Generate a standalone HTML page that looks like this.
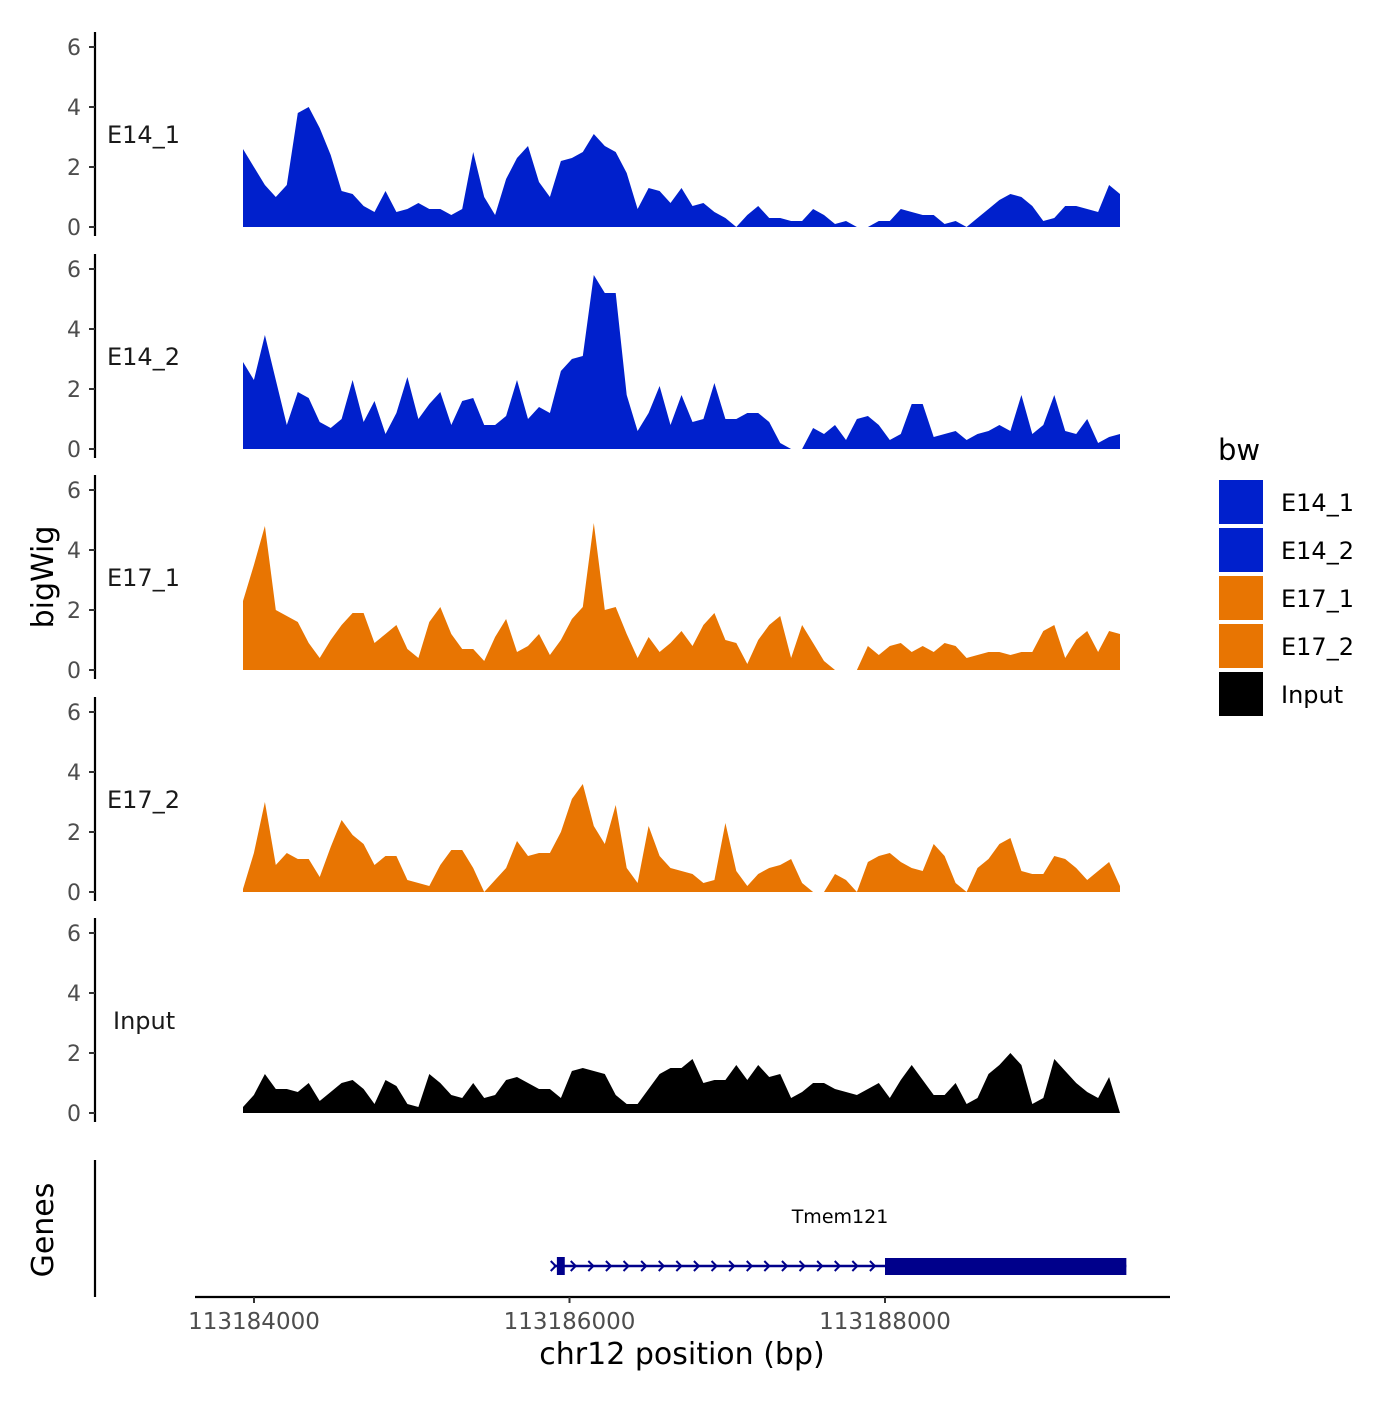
<!DOCTYPE html>
<html><head><meta charset="utf-8"><style>
html,body{margin:0;padding:0;background:#fff;}
svg text{font-family:"DejaVu Sans","Liberation Sans",sans-serif;}
</style></head><body>
<svg id="chart" width="1400" height="1400" viewBox="0 0 1400 1400" xmlns="http://www.w3.org/2000/svg">
<rect width="1400" height="1400" fill="#fff"/>
</svg>
<script>
const trackNames = ["E14_1","E14_2","E17_1","E17_2","Input"];
const trackColors = ["#0020CC","#0020CC","#E87502","#E87502","#000000"];
const startBp = 113183930;
const stepBp = 69.5;
const e14_1 = [2.6,2.0,1.4,1.0,1.4,3.8,4.0,3.3,2.4,1.2,1.1,0.7,0.5,1.2,0.5,0.6,0.8,0.6,0.6,0.4,0.6,2.5,1.0,0.4,1.6,2.3,2.7,1.5,1.0,2.2,2.3,2.5,3.1,2.7,2.5,1.8,0.6,1.3,1.2,0.8,1.3,0.7,0.8,0.5,0.3,0.0,0.4,0.7,0.3,0.3,0.2,0.2,0.6,0.4,0.1,0.2,0.0,0.0,0.2,0.2,0.6,0.5,0.4,0.4,0.1,0.2,0.0,0.3,0.6,0.9,1.1,1.0,0.7,0.2,0.3,0.7,0.7,0.6,0.5,1.4,1.1];
const e14_2 = [2.9,2.3,3.8,2.3,0.8,1.9,1.7,0.9,0.7,1.0,2.3,0.9,1.6,0.5,1.2,2.4,1.0,1.5,1.9,0.8,1.6,1.7,0.8,0.8,1.1,2.3,1.0,1.4,1.2,2.6,3.0,3.1,5.8,5.2,5.2,1.8,0.6,1.2,2.1,0.8,1.8,0.9,1.0,2.2,1.0,1.0,1.2,1.2,0.9,0.2,0.0,0.0,0.7,0.5,0.8,0.3,1.0,1.1,0.8,0.3,0.5,1.5,1.5,0.4,0.5,0.6,0.3,0.5,0.6,0.8,0.6,1.8,0.5,0.8,1.8,0.6,0.5,1.0,0.2,0.4,0.5];
const e17_1 = [2.3,3.5,4.8,2.0,1.8,1.6,0.9,0.4,1.0,1.5,1.9,1.9,0.9,1.2,1.5,0.7,0.4,1.6,2.1,1.2,0.7,0.7,0.3,1.1,1.7,0.6,0.8,1.2,0.5,1.0,1.7,2.1,4.9,2.0,2.1,1.2,0.4,1.1,0.6,0.9,1.3,0.8,1.5,1.9,1.0,0.9,0.2,1.0,1.5,1.8,0.4,1.5,0.9,0.3,0.0,0.0,0.0,0.8,0.5,0.8,0.9,0.6,0.8,0.6,0.9,0.8,0.4,0.5,0.6,0.6,0.5,0.6,0.6,1.3,1.5,0.4,1.0,1.3,0.6,1.3,1.2];
const e17_2 = [0.1,1.3,3.0,0.9,1.3,1.1,1.1,0.5,1.5,2.4,1.9,1.6,0.9,1.2,1.2,0.4,0.3,0.2,0.9,1.4,1.4,0.8,0.0,0.4,0.8,1.7,1.2,1.3,1.3,2.0,3.1,3.6,2.2,1.6,2.9,0.8,0.3,2.2,1.2,0.8,0.7,0.6,0.3,0.4,2.3,0.7,0.2,0.6,0.8,0.9,1.1,0.3,0.0,0.0,0.6,0.4,0.0,1.0,1.2,1.3,1.0,0.8,0.7,1.6,1.2,0.3,0.0,0.8,1.1,1.6,1.8,0.7,0.6,0.6,1.2,1.1,0.8,0.4,0.7,1.0,0.2];
const input = [0.2,0.6,1.3,0.8,0.8,0.7,1.0,0.4,0.7,1.0,1.1,0.8,0.3,1.1,0.9,0.3,0.2,1.3,1.0,0.6,0.5,1.0,0.5,0.6,1.1,1.2,1.0,0.8,0.8,0.5,1.4,1.5,1.4,1.3,0.6,0.3,0.3,0.8,1.3,1.5,1.5,1.8,1.0,1.1,1.1,1.6,1.1,1.6,1.2,1.3,0.5,0.7,1.0,1.0,0.8,0.7,0.6,0.8,1.0,0.5,1.1,1.6,1.1,0.6,0.6,1.0,0.3,0.5,1.3,1.6,2.0,1.6,0.3,0.5,1.8,1.4,1.0,0.7,0.5,1.2,0.0];
const seriesValues = [e14_1,e14_2,e17_1,e17_2,input];
const yTicks = [0,2,4,6];
const xTicks = [113184000,113186000,113188000];
const geneName = "Tmem121";
const geneStart = 113185900, geneEnd = 113189530, cdsStart = 113188000, utr5Start = 113185920, utr5End = 113185970;

const svg = document.getElementById('chart');
const NS = "http://www.w3.org/2000/svg";
function mk(tag, attrs, parent){const e=document.createElementNS(NS,tag);for(const k in attrs)e.setAttribute(k,attrs[k]);(parent||svg).appendChild(e);return e;}
const xScale = bp => 254 + (bp - 113184000) * (315.5/2000);
const panelZero = [227,449,670,892,1113];
const yScale = (p,v) => panelZero[p] - v*30;

trackNames.forEach((name,p)=>{
  const g = mk('g',{});
  
  
  const ax = mk('line',{x1:95,x2:95,y1:panelZero[p]-195,y2:panelZero[p]+9,stroke:'#000','stroke-width':2.2},g);
  
  
  yTicks.forEach(t=>{
    const y=yScale(p,t);
    const tk=mk('line',{x1:89,x2:95,y1:y,y2:y,stroke:'#333','stroke-width':2},g);
    
    
    const tl=mk('text',{x:81,y:y+8,'text-anchor':'end','font-size':22,fill:'#4d4d4d'},g);
    tl.textContent=t;
    
    
  });
  const lbl=mk('text',{x:name==='Input'?113:107,y:yScale(p,3)+6,'font-size':24,fill:'#1a1a1a'},g);
  lbl.textContent=name;
  
  
  const vals=seriesValues[p];
  let d='M'+xScale(startBp).toFixed(1)+','+panelZero[p];
  vals.forEach((v,i)=>{d+=' L'+xScale(startBp+i*stepBp).toFixed(1)+','+yScale(p,v).toFixed(1);});
  d+=' L'+xScale(startBp+(vals.length-1)*stepBp).toFixed(1)+','+panelZero[p]+' Z';
  const area=mk('path',{d:d,fill:trackColors[p],stroke:'none'},g);
  
  
});

const yt=mk('text',{x:0,y:0,'font-size':30,'text-anchor':'middle',transform:'translate(53,577) rotate(-90)',fill:'#000'});
yt.textContent='bigWig';


const gt=mk('text',{x:0,y:0,'font-size':30,'text-anchor':'middle',transform:'translate(53,1230) rotate(-90)',fill:'#000'});
gt.textContent='Genes';



const gax=mk('line',{x1:95,x2:95,y1:1160,y2:1297,stroke:'#000','stroke-width':2.2});


const xax=mk('line',{x1:195,x2:1170,y1:1297,y2:1297,stroke:'#000','stroke-width':2.2});


xTicks.forEach(t=>{
  const x=xScale(t);
  const tk=mk('line',{x1:x,x2:x,y1:1297,y2:1303,stroke:'#333','stroke-width':2});
  
  
  const tl=mk('text',{x:x,y:1329,'text-anchor':'middle','font-size':23,fill:'#4d4d4d'});
  tl.textContent=t;
  
  
});
const xt=mk('text',{x:682,y:1364,'text-anchor':'middle','font-size':30,fill:'#000'});
xt.textContent='chr12 position (bp)';



const gg=mk('g',{});


const gx1=xScale(geneStart), gx2=xScale(geneEnd), cx=xScale(cdsStart);
mk('line',{x1:gx1,x2:gx2,y1:1266,y2:1266,stroke:'#00008B','stroke-width':2.5},gg);
for(let x=gx1+20;x<cx-8;x+=17.6){
  mk('path',{d:`M${x-3},${1261} L${x+2},${1266} L${x-3},${1271}`,stroke:'#00008B','stroke-width':2,fill:'none'},gg);
}
mk('path',{d:`M${gx1-3},1261 L${gx1+2},1266 L${gx1-3},1271`,stroke:'#00008B','stroke-width':2,fill:'none'},gg);
mk('rect',{x:xScale(utr5Start),y:1257,width:xScale(utr5End)-xScale(utr5Start),height:18,fill:'#00008B'},gg);
mk('rect',{x:cx,y:1258,width:gx2-cx,height:17,fill:'#00008B'},gg);
const gn=mk('text',{x:840,y:1223,'text-anchor':'middle','font-size':19,fill:'#000'},gg);
gn.textContent=geneName;



const lg=mk('g',{});


const lt=mk('text',{x:1218,y:460,'font-size':29,fill:'#000'},lg);
lt.textContent='bw';


trackNames.forEach((n,i)=>{
  const y=480+i*48;
  const e=mk('g',{},lg);
  
  
  mk('rect',{x:1219,y:y,width:44,height:44,fill:trackColors[i]},e);
  const t=mk('text',{x:1281,y:y+31,'font-size':24,fill:'#000'},e);
  t.textContent=n;
});
</script>
</body></html>
